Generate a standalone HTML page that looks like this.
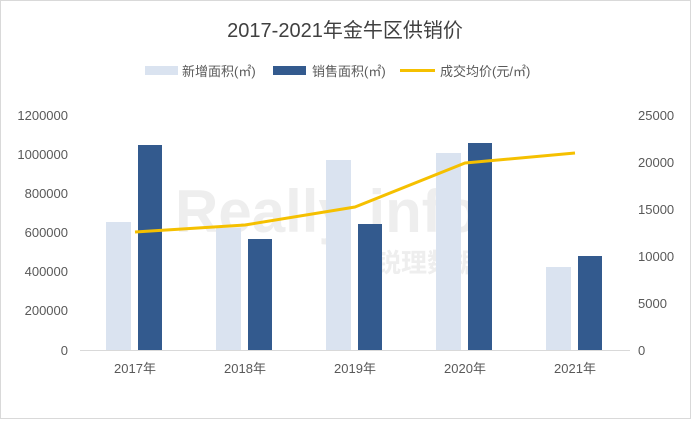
<!DOCTYPE html>
<html><head><meta charset="utf-8"><style>
body{margin:0;background:#fff}
svg text{font-family:"Liberation Sans","Noto Sans CJK SC",sans-serif;fill:#595959}
</style></head><body>
<svg width="691" height="419" xmlns="http://www.w3.org/2000/svg">
<rect x="0.5" y="0.5" width="690" height="418" fill="#fff" stroke="#d9d9d9"/>
<text x="345" y="37" text-anchor="middle" font-size="20" style="fill:#404040">2017-2021年金牛区供销价</text>
<rect x="145" y="66" width="33" height="9" fill="#dae3f0"/>
<text x="182" y="76" font-size="13">新增面积(㎡)</text>
<rect x="273" y="66" width="33" height="9" fill="#335a8e"/>
<text x="312" y="76" font-size="13">销售面积(㎡)</text>
<line x1="400" y1="70.5" x2="435" y2="70.5" stroke="#f5c000" stroke-width="3"/>
<text x="440" y="76" font-size="13">成交均价(元/㎡)</text>
<g font-size="13" text-anchor="end">
<text x="68" y="120">1200000</text><text x="68" y="159">1000000</text><text x="68" y="198">800000</text>
<text x="68" y="237">600000</text><text x="68" y="276">400000</text><text x="68" y="315">200000</text><text x="68" y="355">0</text>
</g>
<g font-size="13" text-anchor="start">
<text x="638" y="120">25000</text><text x="638" y="167">20000</text><text x="638" y="214">15000</text>
<text x="638" y="261">10000</text><text x="638" y="308">5000</text><text x="638" y="355">0</text>
</g>
<text x="175" y="232" font-size="60" font-weight="bold" style="fill:#eeeeee">Really info</text>
<text x="375" y="272" font-size="26" font-weight="bold" style="fill:#eeeeee">锐理数据</text>
<g fill="#dae3f0">
<rect x="106" y="222" width="25" height="128"/><rect x="216" y="228" width="25" height="122"/>
<rect x="326" y="160" width="25" height="190"/><rect x="436" y="153" width="25" height="197"/>
<rect x="546" y="267" width="25" height="83"/>
</g>
<g fill="#335a8e">
<rect x="138" y="145" width="24" height="205"/><rect x="248" y="239" width="24" height="111"/>
<rect x="358" y="224" width="24" height="126"/><rect x="468" y="143" width="24" height="207"/>
<rect x="578" y="256" width="24" height="94"/>
</g>
<line x1="80" y1="350.5" x2="630" y2="350.5" stroke="#d9d9d9"/>
<polyline points="135,232 245,225 355,207 465,163 575,153" fill="none" stroke="#f5c000" stroke-width="3" stroke-linejoin="round"/>
<g font-size="13" text-anchor="middle">
<text x="135" y="373">2017年</text><text x="245" y="373">2018年</text><text x="355" y="373">2019年</text>
<text x="465" y="373">2020年</text><text x="575" y="373">2021年</text>
</g>
</svg>
</body></html>
